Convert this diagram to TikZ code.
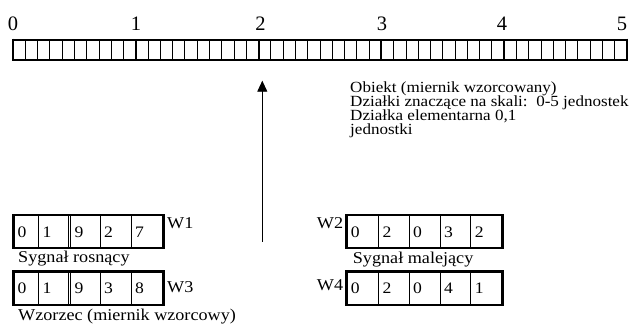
\documentclass[tikz,border=0pt]{standalone}
\usepackage{fontspec}
\setmainfont[FakeStretch=1.1]{Liberation Serif}
\newfontfamily\numfont{Liberation Serif}
\newfontfamily\descfont[FakeStretch=1.1]{Liberation Serif}
\newcommand\desclines{\lineskiplimit=-30pt\relax\lineskip=0pt\relax}
\usetikzlibrary{arrows.meta}
\begin{document}
\begin{tikzpicture}[x=1pt,y=-1pt,
  txt/.style={anchor=base west,inner sep=0pt,font=\fontsize{16.5}{18}\selectfont},
  desc/.style={anchor=base west,inner sep=0pt,align=left,
    font=\descfont\fontsize{15.5}{14}\selectfont\desclines},
  num/.style={anchor=base,inner sep=0pt,font=\numfont\fontsize{20.5}{22}\selectfont},
  dig/.style={anchor=base west,inner sep=0pt,font=\fontsize{16}{18}\selectfont},
  frame/.style={line width=2.6pt,line join=miter},
  cell/.style={line width=0.9pt},
  minortick/.style={line width=0.9pt},
  majortick/.style={line width=2pt},
  edgetick/.style={line width=2.8pt},
  arrowline/.style={line width=0.9pt,-{Triangle[length=11pt,width=10pt]}},
]
\useasboundingbox (0,0) rectangle (633,327);

% ---------- ruler ----------
\foreach \i in {0,...,50}
  \draw[minortick] ({13+\i*12.28},39.5) -- ({13+\i*12.28},60);
\foreach \i in {1,...,4}
  \draw[majortick] ({13+\i*122.8},39.5) -- ({13+\i*122.8},60);
\draw[edgetick] (13,38.5) -- (13,60.5);
\draw[edgetick] (627,38.5) -- (627,60.5);
\draw[line width=2pt] (13,39.5) -- (627,39.5);
\draw[line width=1.2pt] (13,60) -- (627,60);

\node[num] (n0) at (13,30.7) {0};
\node[num] (n1) at (136,30.7) {1};
\node[num] (n2) at (260.5,30.7) {2};
\node[num] (n3) at (382,30.7) {3};
\node[num] (n4) at (502,30.7) {4};
\node[num] (n5) at (622,30.7) {5};

% ---------- description ----------
\node[desc] (desc) at (350,134) {Obiekt (miernik wzorcowany)\\
  Działki znaczące na skali:\ \ 0-5 jednostek\\
  Działka elementarna 0,1\\
  jednostki};

% ---------- arrow ----------
\coordinate (atail) at (262.3,241.7);
\coordinate (ahead) at (262.3,80.7);
\draw[arrowline] (atail) -- (ahead);

% ---------- W1 ----------
\draw[cell] (38.3,215) -- (38.3,248);
\draw[cell] (68.3,215) -- (68.3,248);
\draw[cell] (70.7,215) -- (70.7,248);
\draw[cell] (100,215) -- (100,248);
\draw[cell] (131,215) -- (131,248);
\draw[frame] (13.3,215) rectangle (163.3,248);
\node[dig] (w1a) at (17.5,237.7) {0};
\node[dig] (w1b) at (42.5,237.7) {1};
\node[dig] (w1c) at (74.5,237.7) {9};
\node[dig] (w1d) at (104,237.7) {2};
\node[dig] (w1e) at (135,237.7) {7};
\node[txt] (w1) at (167,228.3) {W1};
\node[txt] (s1) at (18,262.3) {Sygnał rosnący};

% ---------- W3 ----------
\draw[cell] (38.3,271.7) -- (38.3,305);
\draw[cell] (68.3,271.7) -- (68.3,305);
\draw[cell] (70.7,271.7) -- (70.7,305);
\draw[cell] (100,271.7) -- (100,305);
\draw[cell] (131,271.7) -- (131,305);
\draw[frame] (13.3,271.7) rectangle (163.3,305);
\node[dig] (w3a) at (17.5,293.5) {0};
\node[dig] (w3b) at (42.5,293.5) {1};
\node[dig] (w3c) at (74.5,293.5) {9};
\node[dig] (w3d) at (104,293.5) {3};
\node[dig] (w3e) at (135,293.5) {8};
\node[txt] (w3) at (167,292) {W3};
\node[txt] (s3) at (18,320) {Wzorzec (miernik wzorcowy)};

% ---------- W2 ----------
\draw[cell] (378.3,215) -- (378.3,248);
\draw[cell] (409,215) -- (409,248);
\draw[cell] (440,215) -- (440,248);
\draw[cell] (470.7,215) -- (470.7,248);
\draw[frame] (346.7,215) rectangle (502.3,248);
\node[dig] (w2a) at (350.7,237.7) {0};
\node[dig] (w2b) at (382.3,237.7) {2};
\node[dig] (w2c) at (413,237.7) {0};
\node[dig] (w2d) at (444,237.7) {3};
\node[dig] (w2e) at (474.7,237.7) {2};
\node[txt] (w2) at (316.7,228.5) {W2};
\node[txt] (s2) at (352.7,263) {Sygnał malejący};

% ---------- W4 ----------
\draw[cell] (378.3,271.7) -- (378.3,305);
\draw[cell] (409,271.7) -- (409,305);
\draw[cell] (440,271.7) -- (440,305);
\draw[cell] (470.7,271.7) -- (470.7,305);
\draw[frame] (346.7,271.7) rectangle (502.3,305);
\node[dig] (w4a) at (350.7,293.5) {0};
\node[dig] (w4b) at (382.3,293.5) {2};
\node[dig] (w4c) at (413,293.5) {0};
\node[dig] (w4d) at (444,293.5) {4};
\node[dig] (w4e) at (474.7,293.5) {1};
\node[txt] (w4) at (316.7,290) {W4};
\end{tikzpicture}
\end{document}
